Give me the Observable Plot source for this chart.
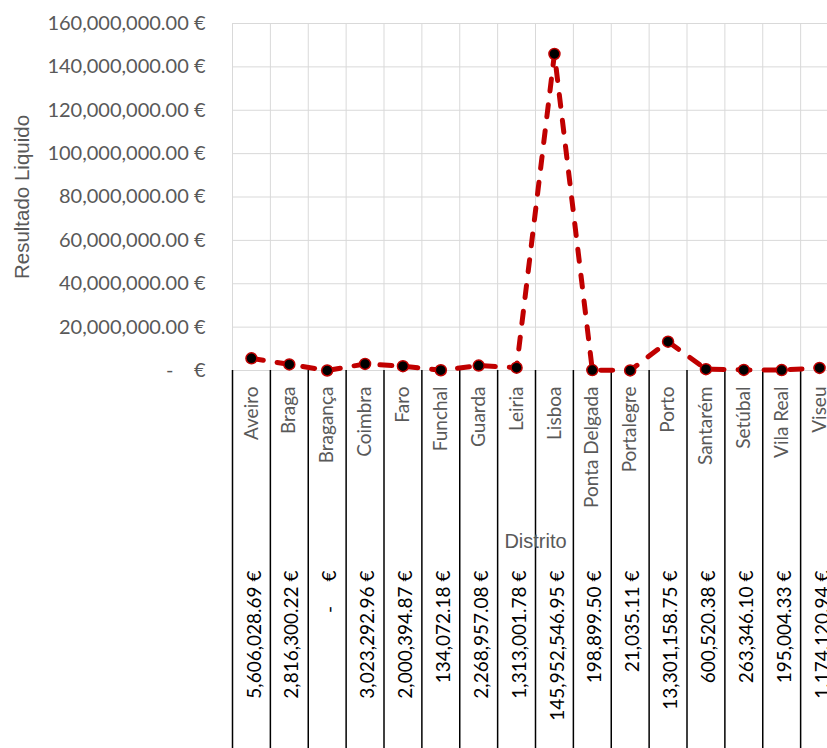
<!DOCTYPE html>
<html>
<head>
<meta charset="utf-8">
<script src="https://cdn.jsdelivr.net/npm/d3@7"></script>
<script src="https://cdn.jsdelivr.net/npm/@observablehq/plot@0.6"></script>
<style>
  html, body { margin: 0; padding: 0; background: white; overflow: hidden; }
  #chart { width: 827px; height: 748px; overflow: hidden; }
</style>
</head>
<body>
<div id="chart"></div>
<script>
const districts = ["Aveiro", "Braga", "Bragança", "Coimbra", "Faro", "Funchal", "Guarda", "Leiria", "Lisboa", "Ponta Delgada", "Portalegre", "Porto", "Santarém", "Setúbal", "Vila Real", "Viseu"];
const resultado = [5606028.69, 2816300.22, 0, 3023292.96, 2000394.87, 134072.18, 2268957.08, 1313001.78, 145952546.95, 198899.50, 21035.11, 13301158.75, 600520.38, 263346.10, 195004.33, 1174120.94];
const yTicks = [0, 20000000, 40000000, 60000000, 80000000, 100000000, 120000000, 140000000, 160000000];
const yTickLabels = ["-\u00a0\u00a0\u00a0\u00a0€", "20,000,000.00 €", "40,000,000.00 €", "60,000,000.00 €", "80,000,000.00 €", "100,000,000.00 €", "120,000,000.00 €", "140,000,000.00 €", "160,000,000.00 €"];
const yTitle = "Resultado Liquido";
const xTitle = "Distrito";

const fmt = v => v === 0 ? "-\u00a0\u00a0\u00a0\u00a0\u00a0€" : d3.format(",.2f")(v) + " €";
const data = districts.map((d, i) => ({district: d, i, value: resultado[i], label: fmt(resultado[i])}));
const bounds = d3.range(districts.length + 1);
const gray = "#595959";
const narrow = "'Liberation Sans Narrow', 'Liberation Sans', sans-serif";

const chart = Plot.plot({
  width: 827,
  height: 748,
  marginLeft: 232,
  marginRight: 0,
  marginTop: 23,
  marginBottom: 378,
  x: {domain: [0, districts.length], range: [232, 838], axis: null},
  y: {domain: [0, 160000000], axis: null},
  style: {fontFamily: "Lato, sans-serif", fontSize: "20px", background: "white", overflow: "hidden"},
  marks: [
    Plot.ruleY(yTicks, {y: d => d, stroke: "#d9d9d9", strokeWidth: 1}),
    Plot.ruleX(bounds, {x: d => d, stroke: "#d9d9d9", strokeWidth: 1}),
    Plot.ruleX(bounds, {x: d => d, insetTop: 347, insetBottom: -378, stroke: "black", strokeWidth: 1.5}),
    Plot.text(yTicks, {y: d => d, text: (d, i) => yTickLabels[i], frameAnchor: "left", dx: -27, textAnchor: "end", fill: gray, fontSize: 20}),
    Plot.text([yTitle], {frameAnchor: "left", dx: -210, rotate: -90, textAnchor: "middle", fill: gray, fontFamily: narrow, fontSize: 20.5}),
    Plot.text(data, {x: d => d.i + 0.5, y: 0, text: "district", rotate: -90, textAnchor: "end", dy: 16, fill: gray, fontSize: 19}),
    Plot.text([xTitle], {x: districts.length / 2, y: 0, dy: 171, fill: gray, fontFamily: narrow, fontSize: 20}),
    Plot.text(data, {x: d => d.i + 0.5, y: 0, text: "label", rotate: -90, textAnchor: "end", dy: 200, dx: 3, fill: "black", fontSize: 19}),
    Plot.line(data, {x: d => d.i + 0.5, y: "value", stroke: "#C00000", strokeWidth: 5, strokeDasharray: "12,14", strokeLinecap: "round"}),
    Plot.dot(data, {x: d => d.i + 0.5, y: "value", r: 5.5, fill: "black", stroke: "#C00000", strokeWidth: 1.5})
  ]
});
document.getElementById("chart").appendChild(chart);
</script>
</body>
</html>
